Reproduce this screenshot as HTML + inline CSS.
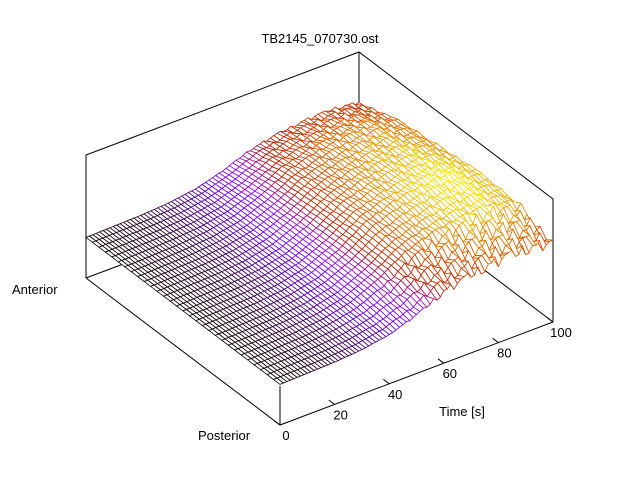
<!DOCTYPE html>
<html><head><meta charset="utf-8"><style>
html,body{margin:0;padding:0;background:#fff;}
svg{display:block;font-family:"Liberation Sans",sans-serif;}
</style></head><body>
<svg id="chart" width="640" height="480" viewBox="0 0 640 480">
<rect width="640" height="480" fill="#fff"/>
<text x="320" y="43" text-anchor="middle" font-size="13">TB2145_070730.ost</text>
<g id="back" stroke="#000" stroke-width="1" fill="none">
<polyline points="86,278 86,155 359,52 553,199 553,322"/>
<line x1="359" y1="52" x2="359" y2="175"/>
<polyline points="86,278 359,175 553,322"/>
</g>
<g id="surf"></g>
<g id="front" stroke="#000" stroke-width="1" fill="none">
<polyline points="86,278 280,425 553,322"/>
<line x1="280" y1="425" x2="280" y2="386"/>
</g>
<g id="ticks" font-size="13"></g>
<text x="462" y="416" text-anchor="middle" font-size="13">Time [s]</text>
<text x="12" y="294" font-size="13">Anterior</text>
<text x="198" y="440" font-size="13">Posterior</text>
</svg>
<script>
// time profile (relative rise) at t = 0,10,...,100
const timeProfile = [0, 0.02, 0.04, 0.09, 0.2, 0.42, 0.72, 0.88, 0.97, 1.0, 0.9];
// anterior-posterior profile at y = 0 (posterior) .. 1 (anterior) step 0.2
const rowProfile = [0.72, 0.97, 1.0, 0.92, 0.82, 0.6];
const ripple = [0.0, 0.05, -0.04, 0.07, -0.06, 0.02, -0.08, 0.04, 0.06, -0.03, -0.07, 0.03, 0.08];
const tickLabels = [0, 20, 40, 60, 80, 100];
const baseZ = 0.33, ampZ = 0.48;

const O = [280, 425], UX = [273, -103], UY = [-194, -147], UZ = 123;
function proj(t, y, z) {
  return [O[0] + UX[0] * t / 100 + UY[0] * y, O[1] + UX[1] * t / 100 + UY[1] * y - UZ * z];
}
function interp(arr, f) {
  const p = f * (arr.length - 1), i = Math.min(Math.floor(p), arr.length - 2), r = p - i;
  return arr[i] * (1 - r) + arr[i + 1] * r;
}
const NX = 81, NY = 31;
const Z = [];
for (let i = 0; i < NX; i++) {
  Z.push([]);
  for (let j = 0; j < NY; j++) {
    const tf = i / (NX - 1), yf = j / (NY - 1);
    const T = interp(timeProfile, tf), Y = interp(rowProfile, yf);
    const w = j < 6 ? 1.3 : 0.35;
    const rp = ripple[(i * 7 + j * 3) % ripple.length] * T * T * w;
    Z[i].push(baseZ + ampZ * T * Y + ampZ * rp);
  }
}
function pal(z) {
  let x = (z - baseZ) / (ampZ * 1.02); x = Math.max(0, Math.min(1, x));
  const r = Math.sqrt(x), g = x * x * x, b = Math.max(0, Math.sin(2 * Math.PI * x));
  return `rgb(${Math.round(r * 255)},${Math.round(g * 255)},${Math.round(b * 255)})`;
}
const quads = [];
for (let i = 0; i < NX - 1; i++) for (let j = 0; j < NY - 1; j++) quads.push([i, j]);
quads.sort((a, b) => (b[0] / (NX - 1) + b[1] / (NY - 1)) - (a[0] / (NX - 1) + a[1] / (NY - 1)));
const NS = 'http://www.w3.org/2000/svg';
const surf = document.getElementById('surf');
for (const [i, j] of quads) {
  const c = [[i, j], [i + 1, j], [i + 1, j + 1], [i, j + 1]];
  const pts = c.map(([a, b]) => proj(a * 100 / (NX - 1), b / (NY - 1), Z[a][b]));
  const zavg = (Z[i][j] + Z[i + 1][j] + Z[i + 1][j + 1] + Z[i][j + 1]) / 4;
  const p = document.createElementNS(NS, 'polygon');
  p.setAttribute('points', pts.map(q => q[0].toFixed(1) + ',' + q[1].toFixed(1)).join(' '));
  p.setAttribute('fill', '#fff');
  p.setAttribute('stroke', pal(zavg));
  p.setAttribute('stroke-width', '0.8');
  
  
  surf.appendChild(p);
}
const tk = document.getElementById('ticks');
for (const v of tickLabels) {
  const a = proj(v, 0, 0), b = proj(v, 0.03, 0);
  const l = document.createElementNS(NS, 'line');
  l.setAttribute('x1', a[0]); l.setAttribute('y1', a[1]);
  l.setAttribute('x2', b[0]); l.setAttribute('y2', b[1]);
  l.setAttribute('stroke', '#000');
  
  
  tk.appendChild(l);
  const t = document.createElementNS(NS, 'text');
  t.setAttribute('x', a[0] + 6 + (v === 100 ? 2 : 0)); t.setAttribute('y', a[1] + 15);
  t.setAttribute('text-anchor', 'middle');
  t.textContent = v;
  
  
  tk.appendChild(t);
}
</script>
</body></html>
